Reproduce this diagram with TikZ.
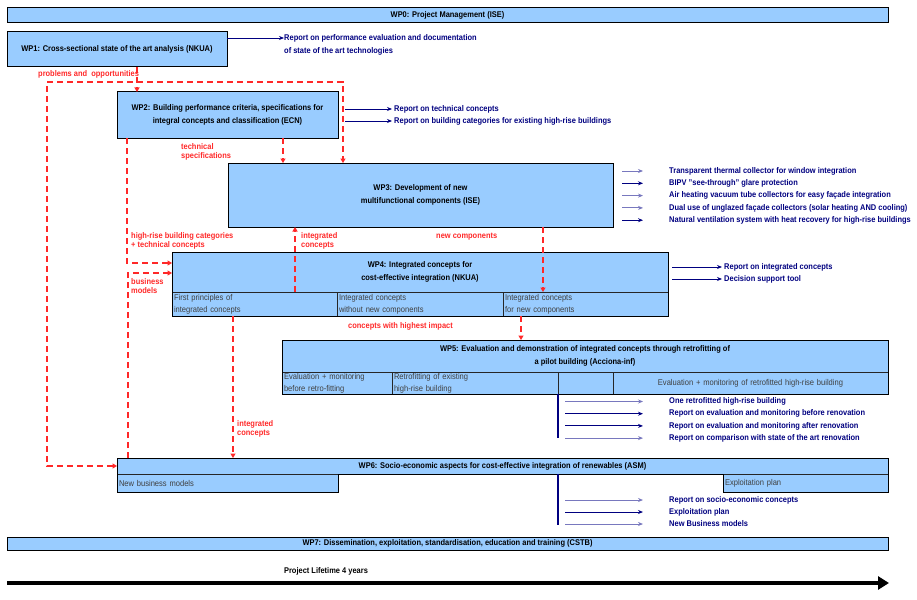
\documentclass[tikz,border=0pt]{standalone}
\usepackage{fontspec}
\setmainfont{Liberation Sans}[FakeStretch=0.9]
\usetikzlibrary{arrows.meta}
\definecolor{wpblue}{RGB}{153,204,255}
\definecolor{outnavy}{RGB}{0,0,128}
\definecolor{outlite}{RGB}{120,120,190}
\definecolor{flowred}{RGB}{255,40,40}
\tikzset{
  wpbox/.style={draw=black, line width=1pt, fill=wpblue, inner sep=0pt, outer sep=0pt, anchor=north west, align=center, font=\fontsize{8.3}{12.5}\selectfont\bfseries},
  wpcell/.style={draw=black!85, line width=0.6pt, fill=wpblue, inner xsep=2pt, inner ysep=0pt, outer sep=0pt, anchor=north west, align=left, text=black!75, font=\fontsize{8.4}{12}\selectfont},
  outline/.style={draw=black, line width=1pt},
  outtext/.style={anchor=west, inner sep=0pt, text=outnavy, font=\fontsize{8.3}{9}\selectfont\bfseries},
  outdark/.style={-{Stealth[length=5pt,width=4pt]}, outnavy, line width=0.9pt},
  outpale/.style={outdark, outlite},
  outbar/.style={outnavy, line width=2pt},
  flow/.style={>={Triangle[length=4.5pt,width=5pt]}, ->, flowred, line width=1.5pt, dash pattern=on 6pt off 4pt},
  flowlabel/.style={anchor=west, inner sep=0pt, text=flowred, align=left, font=\fontsize{8.3}{9.5}\selectfont\bfseries}
}
\begin{document}
\begin{tikzpicture}[x=1pt,y=-1pt]
\useasboundingbox (0,0) rectangle (917,599);

% work packages
\node[wpbox, minimum width=881pt, minimum height=15pt] (wp0) at (7,8) {WP0: Project Management (ISE)};
\node[wpbox, minimum width=220pt, minimum height=35pt] (wp1) at (7,32) {WP1: Cross-sectional state of the art analysis (NKUA)};
\node[wpbox, minimum width=221pt, minimum height=46pt] (wp2) at (117,92) {WP2: Building performance criteria, specifications for\\integral concepts and classification (ECN)};
\node[wpbox, minimum width=385pt, minimum height=64pt] (wp3) at (228,163) {WP3: Development of new\\multifunctional components (ISE)};

\node[wpbox, minimum width=496pt, minimum height=40pt] (wp4) at (172,252) {WP4: Integrated concepts for\\cost-effective integration (NKUA)};
\node[wpcell, text width=161pt, minimum height=24pt] (wp4a) at (wp4.south west) {First principles of\\integrated concepts};
\node[wpcell, text width=162pt, minimum height=24pt] (wp4b) at (wp4a.north east) {Integrated concepts\\without new components};
\node[wpcell, text width=161pt, minimum height=24pt] (wp4c) at (wp4b.north east) {Integrated concepts\\for new components};
\draw[outline] (wp4.north west) rectangle (wp4c.south east);

\node[wpbox, minimum width=606pt, minimum height=32pt] (wp5) at (282,340) {WP5: Evaluation and demonstration of integrated concepts through retrofitting of\\a pilot building (Acciona-inf)};
\node[wpcell, text width=106pt, minimum height=22pt] (wp5a) at (wp5.south west) {Evaluation + monitoring\\before retro-fitting};
\node[wpcell, text width=162pt, minimum height=22pt] (wp5b) at (wp5a.north east) {Retrofitting of existing\\high-rise building};
\node[wpcell, text width=51pt, minimum height=22pt] (wp5c) at (wp5b.north east) {};
\node[wpcell, text width=271pt, minimum height=22pt, align=center] (wp5d) at (wp5c.north east) {Evaluation + monitoring of retrofitted high-rise building};
\draw[outline] (wp5.north west) rectangle (wp5d.south east);

\node[wpbox, line width=0.6pt, minimum width=771pt, minimum height=16pt] (wp6) at (117,458) {WP6: Socio-economic aspects for cost-effective integration of renewables (ASM)};
\node[wpcell, text width=217pt, minimum height=18pt] (wp6a) at (wp6.south west) {New business models};
\node[wpcell, text width=161pt, minimum height=18pt, anchor=north east] (wp6b) at (wp6.south east) {Exploitation plan};
\draw[outline] (wp6.north west) -- (wp6.north east) -- (wp6b.south east) -- (wp6b.south west) -- (wp6b.north west)
  -- (wp6a.north east) -- (wp6a.south east) -- (wp6a.south west) -- cycle;

\node[wpbox, minimum width=881pt, minimum height=13pt] (wp7) at (7,537) {WP7: Dissemination, exploitation, standardisation, education and training (CSTB)};

% deliverables
\node[outtext] (o11) at (284,38) {Report on performance evaluation and documentation};
\node[outtext] (o12) at (284,51) {of state of the art technologies};
\draw[outdark] (wp1.east |- o11.west) -- (o11.west);

\node[outtext] (o21) at (394,109) {Report on technical concepts};
\node[outtext] (o22) at (394,121) {Report on building categories for existing high-rise buildings};
\foreach \i in {1,2}
  \draw[outdark, shorten <=7pt, shorten >=2pt] (wp2.east |- o2\i.west) -- (o2\i.west);

\foreach \t [count=\i] in {Transparent thermal collector for window integration,
    BIPV "see-through" glare protection,
    Air heating vacuum tube collectors for easy façade integration,
    Dual use of unglazed façade collectors (solar heating AND cooling),
    Natural ventilation system with heat recovery for high-rise buildings}
  \node[outtext] (o3\i) at (669,158.7+12.3*\i) {\t};
\foreach \i/\s in {1/outpale,2/outdark,3/outpale,4/outpale,5/outdark}
  \draw[\s, shorten <=9pt, shorten >=26pt] (wp3.east |- o3\i.west) -- (o3\i.west);

\node[outtext] (o41) at (724,267) {Report on integrated concepts};
\node[outtext] (o42) at (724,279) {Decision support tool};
\foreach \i in {1,2}
  \draw[outdark, shorten <=4pt, shorten >=2pt] (wp4.east |- o4\i.west) -- (o4\i.west);

\foreach \t [count=\i] in {One retrofitted high-rise building,
    Report on evaluation and monitoring before renovation,
    Report on evaluation and monitoring after renovation,
    Report on comparison with state of the art renovation}
  \node[outtext] (o5\i) at (669,389.3+12.2*\i) {\t};
\draw[outbar] (wp5c.south west) -- (wp5c.south west |- o54.west);
\foreach \i/\s in {1/outpale,2/outdark,3/outdark,4/outpale}
  \draw[\s, shorten <=7pt, shorten >=26pt] (wp5c.south west |- o5\i.west) -- (o5\i.west);

\foreach \t [count=\i] in {Report on socio-economic concepts, Exploitation plan, New Business models}
  \node[outtext] (o6\i) at (669,488+12*\i) {\t};
\draw[outbar] (wp5c.south west |- wp6.south) -- ([yshift=-1pt]wp5c.south west |- o63.west);
\foreach \i/\s in {1/outpale,2/outdark,3/outpale}
  \draw[\s, shorten <=7pt, shorten >=26pt] (wp5c.south west |- o6\i.west) -- (o6\i.west);

% information flows
\coordinate (f1) at ([xshift=20pt]wp2.north west);
\draw[flow] (f1 |- wp1.south) -- (f1);
\coordinate (loopL) at (47,82);
\coordinate (loopR) at (343,82);
\draw[flow, <->] (wp6.west) -| (loopL) -- (loopR) -- (loopR |- wp3.north);
\coordinate (f3) at ([xshift=10pt]wp2.south west);
\draw[flow] (f3) |- ([yshift=-11pt]wp4.north west);
\draw[flow] ([xshift=11pt]wp6.north west) |- ([yshift=-21pt]wp4.north west);
\coordinate (f5) at ([xshift=166pt]wp2.south west);
\draw[flow] (f5) -- (f5 |- wp3.north);
\coordinate (f6) at ([xshift=123pt]wp4.south west);
\draw[flow] (f6) -- (f6 |- wp3.south);
\coordinate (f7) at ([xshift=371pt]wp4.south west);
\draw[flow] (f7 |- wp3.south) -- (f7);
\coordinate (f8) at ([xshift=18pt]wp4c.south west);
\draw[flow] (f8) -- (f8 |- wp5.north);
\coordinate (f9) at ([xshift=61pt]wp4a.south west);
\draw[flow] (f9) -- (f9 |- wp6.north);

\node[flowlabel] (l1) at (38,74) {problems and \ opportunities};
\node[flowlabel] (l2) at (181,152) {technical\\specifications};
\node[flowlabel] (l3) at (131,241) {high-rise building categories\\+ technical concepts};
\node[flowlabel] (l4) at (301,241) {integrated\\concepts};
\node[flowlabel] (l5) at (436,237) {new components};
\node[flowlabel] (l6) at (131,286) {business\\models};
\node[flowlabel] (l7) at (348,326) {concepts with highest impact};
\node[flowlabel] (l8) at (237,429) {integrated\\concepts};

% time line
\coordinate (t0) at (7,583);
\coordinate (t1) at (889,583);
\draw[-{Triangle[length=11pt,width=13pt]}, line width=4pt] (t0) -- (t1);
\node[inner sep=0pt, font=\fontsize{8.3}{9}\selectfont\bfseries] (life) at (326,571) {Project Lifetime 4 years};
\end{tikzpicture}
\end{document}
